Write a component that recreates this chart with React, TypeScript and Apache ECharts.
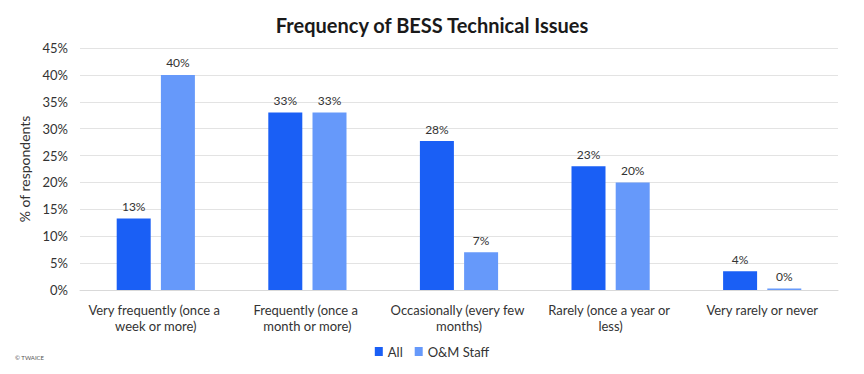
import React, { useEffect, useRef } from "react";
import * as echarts from "echarts";

const categories = [
  "Very frequently (once a week or more)",
  "Frequently (once a month or more)",
  "Occasionally (every few months)",
  "Rarely (once a year or less)",
  "Very rarely or never",
];
const allValues = [13.3, 33, 27.7, 23, 3.5];
const omValues = [40, 33, 7, 20, 0.3];
const seriesNames = ["All", "O&M Staff"];

const FONT = "Lato";

export default function App() {
  const ref = useRef<HTMLDivElement>(null);
  useEffect(() => {
    if (!ref.current) return;
    const chart = echarts.init(ref.current, null, { renderer: "svg" });
    const label = {
      show: true,
      position: "top" as const,
      distance: 6,
      color: "#333",
      fontSize: 12,
      fontFamily: FONT,
      formatter: (p: any) => Math.round(p.value) + "%",
    };
    chart.setOption({
      animation: false,
      backgroundColor: "#fff",
      title: {
        text: "Frequency of BESS Technical Issues",
        left: "center",
        top: 2,
        textStyle: { fontFamily: FONT, fontSize: 20, fontWeight: "bold", color: "#1a1a1a" },
      },
      graphic: [
        {
          type: "text",
          left: 7,
          top: 346,
          style: { text: "© TWAICE", fontSize: 6, fill: "#555", fontFamily: FONT },
        },
      ],
      legend: {
        bottom: 3,
        left: "center",
        itemWidth: 8,
        itemHeight: 9,
        itemGap: 12,
        icon: "rect",
        textStyle: { fontFamily: FONT, fontSize: 13, color: "#333" },
        data: seriesNames,
      },
      grid: { left: 72, right: 18, top: 40, bottom: 76, containLabel: false },
      xAxis: {
        type: "category",
        data: categories,
        axisTick: { show: false },
        axisLine: { lineStyle: { color: "#d9d9d9" } },
        axisLabel: {
          interval: 0,
          color: "#333",
          fontFamily: FONT,
          fontSize: 13,
          lineHeight: 16,
          margin: 12,
          width: 140,
          overflow: "break",
        },
      },
      yAxis: {
        type: "value",
        min: 0,
        max: 45,
        interval: 5,
        name: "% of respondents",
        nameLocation: "middle",
        nameGap: 46,
        nameTextStyle: { fontFamily: FONT, fontSize: 14, color: "#333" },
        axisLabel: { formatter: "{value}%", color: "#333", fontFamily: FONT, fontSize: 13, margin: 12 },
        splitLine: { lineStyle: { color: "#e3e3e3" } },
        axisLine: { show: false },
        axisTick: { show: false },
      },
      series: [
        {
          name: seriesNames[0],
          type: "bar",
          data: allValues,
          barWidth: 34,
          barGap: "30%",
          itemStyle: { color: "#1a5ff5" },
          label,
        },
        {
          name: seriesNames[1],
          type: "bar",
          data: omValues,
          barWidth: 34,
          itemStyle: { color: "#6699fa" },
          label,
        },
      ],
    });
    return () => chart.dispose();
  }, []);
  return <div ref={ref} style={{ width: 848, height: 358 }} />;
}
